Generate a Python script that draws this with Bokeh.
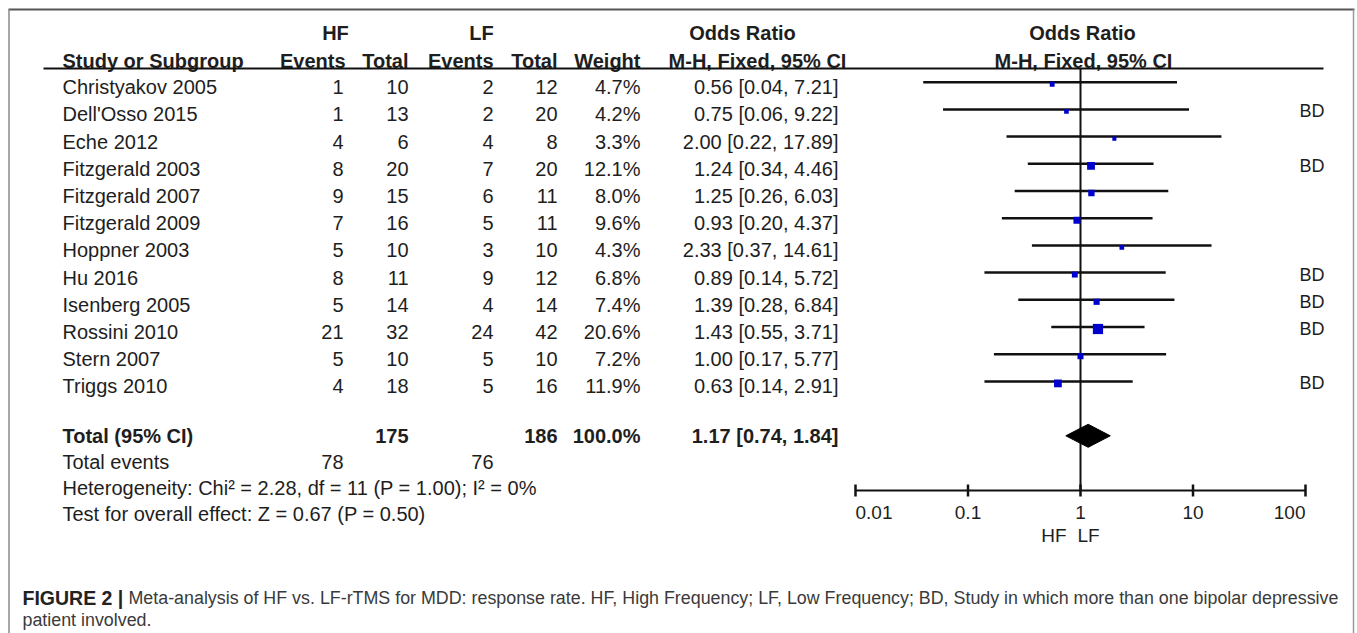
from bokeh.plotting import figure
from bokeh.models import Range1d, LogScale
from bokeh.embed import file_html
from bokeh.resources import INLINE
from bokeh.core.properties import value
import math

# ---------------- data ----------------
studies = ["Christyakov 2005", "Dell'Osso 2015", "Eche 2012", "Fitzgerald 2003",
           "Fitzgerald 2007", "Fitzgerald 2009", "Hoppner 2003", "Hu 2016",
           "Isenberg 2005", "Rossini 2010", "Stern 2007", "Triggs 2010"]
hf_events = [1, 1, 4, 8, 9, 7, 5, 8, 5, 21, 5, 4]
hf_total = [10, 13, 6, 20, 15, 16, 10, 11, 14, 32, 10, 18]
lf_events = [2, 2, 4, 7, 6, 5, 3, 9, 4, 24, 5, 5]
lf_total = [12, 20, 8, 20, 11, 11, 10, 12, 14, 42, 10, 16]
weights = [4.7, 4.2, 3.3, 12.1, 8.0, 9.6, 4.3, 6.8, 7.4, 20.6, 7.2, 11.9]
odds = [0.56, 0.75, 2.00, 1.24, 1.25, 0.93, 2.33, 0.89, 1.39, 1.43, 1.00, 0.63]
ci_low = [0.04, 0.06, 0.22, 0.34, 0.26, 0.20, 0.37, 0.14, 0.28, 0.55, 0.17, 0.14]
ci_high = [7.21, 9.22, 17.89, 4.46, 6.03, 4.37, 14.61, 5.72, 6.84, 3.71, 5.77, 2.91]
bd_flag = [False, True, False, True, False, False, False, True, True, True, False, True]

total_hf = 175
total_lf = 186
total_weight = 100.0
total_or = 1.17
total_low = 0.74
total_high = 1.84
events_hf = 78
events_lf = 76
heterogeneity = "Heterogeneity: Chi\u00b2 = 2.28, df = 11 (P = 1.00); I\u00b2 = 0%"
overall = "Test for overall effect: Z = 0.67 (P = 0.50)"
axis_ticks = [0.01, 0.1, 1, 10, 100]
axis_labels = ["0.01", "0.1", "1", "10", "100"]
caption_bold = "FIGURE 2 |"
caption_1 = ("Meta-analysis of HF vs. LF-rTMS for MDD: response rate. HF, High Frequency; "
             "LF, Low Frequency; BD, Study in which more than one bipolar depressive")
caption_2 = "patient involved."

# ---------------- layout ----------------
W, H = 1357, 633
FONT = "Liberation Sans"
TXT = "#1e1e1e"
ONE_X = 1080.0       # page x of OR = 1
DECADE = 112.5       # px per decade
ROW0 = 81.7
STEP = 27.2
TEXT_DY = 5
FOOT_STEP = 26

p = figure(width=W, height=H, output_backend="svg", toolbar_location=None,
           x_range=Range1d(0, W), y_range=Range1d(H, 0),
           x_axis_location=None, y_axis_location=None, min_border=0,
           outline_line_color=None, background_fill_color="white",
           border_fill_color="white")
p.xgrid.visible = False
p.ygrid.visible = False

p.extra_x_ranges = {"or": Range1d(10 ** ((0 - ONE_X) / DECADE), 10 ** ((W - ONE_X) / DECADE))}
p.extra_x_scales = {"or": LogScale()}

n = len(studies)
row_y = [ROW0 + STEP * i for i in range(n)]
text_y = [y + TEXT_DY for y in row_y]
y_total = ROW0 + STEP * (n + 1)
y_events = y_total + FOOT_STEP
y_het = y_events + FOOT_STEP
y_test = y_het + FOOT_STEP
y_axis = 490


def txt(x, y, s, size=20, align="left", bold=False, color=TXT, baseline="middle", xr=None):
    kw = {}
    if xr:
        kw["x_range_name"] = xr
    p.text(x=x, y=y, text=s, text_font=value(FONT), text_font_size=f"{size}px",
           text_align=align, text_baseline=baseline, text_color=color,
           text_font_style="bold" if bold else "normal", **kw)


# border of the figure box
p.segment(x0=[8], y0=[9], x1=[1354], y1=[9], line_color="#555555", line_width=2)
p.segment(x0=[8.5], y0=[9], x1=[8.5], y1=[H], line_color="#8a8a8a", line_width=1.5)
p.segment(x0=[1353], y0=[9], x1=[1353], y1=[H], line_color="#9a9a9a", line_width=1.5)

# headers
txt([335], [32], ["HF"], bold=True, align="center")
txt([481], [32], ["LF"], bold=True, align="center")
txt([742], [32], ["Odds Ratio"], bold=True, align="center")
txt([1082], [32], ["Odds Ratio"], bold=True, align="center")
txt([62], [60], ["Study or Subgroup"], bold=True)
txt([345, 408, 493, 557, 640], [60] * 5, ["Events", "Total", "Events", "Total", "Weight"],
    bold=True, align="right")
txt([757, 1083], [60, 60], ["M-H, Fixed, 95% CI", "M-H, Fixed, 95% CI"], bold=True, align="center")
p.segment(x0=[43], y0=[68], x1=[1323], y1=[68], line_color="#111111", line_width=2)

# study rows
txt([62] * n, text_y, studies)
txt([343] * n, text_y, [str(v) for v in hf_events], align="right")
txt([408] * n, text_y, [str(v) for v in hf_total], align="right")
txt([493] * n, text_y, [str(v) for v in lf_events], align="right")
txt([557] * n, text_y, [str(v) for v in lf_total], align="right")
txt([640] * n, text_y, [f"{w:.1f}%" for w in weights], align="right")
txt([838] * n, text_y, [f"{o:.2f} [{l:.2f}, {h:.2f}]" for o, l, h in zip(odds, ci_low, ci_high)],
    align="right")

# totals
txt([62], [y_total], ["Total (95% CI)"], bold=True)
txt([408, 557, 640], [y_total] * 3, [str(total_hf), str(total_lf), f"{total_weight:.1f}%"],
    bold=True, align="right")
txt([838], [y_total], [f"{total_or:.2f} [{total_low:.2f}, {total_high:.2f}]"], bold=True, align="right")
txt([62], [y_events], ["Total events"])
txt([343, 493], [y_events] * 2, [str(events_hf), str(events_lf)], align="right")
txt([62], [y_het], [heterogeneity])
txt([62], [y_test], [overall])

# forest plot
p.segment(x0=[1], y0=[68], x1=[1], y1=[y_axis], x_range_name="or", line_color="#111111", line_width=2)
p.segment(x0=ci_low, y0=row_y, x1=ci_high, y1=row_y, x_range_name="or",
          line_color="#111111", line_width=2.5)
sides = [2.25 * math.sqrt(w) for w in weights]
p.rect(x=odds, y=[y + 2 for y in row_y], width=sides, height=sides,
       width_units="screen", height_units="screen", x_range_name="or",
       fill_color="#0000cc", line_color=None)
p.patch(x=[total_low, total_or, total_high, total_or],
        y=[y_total, y_total - 11.5, y_total, y_total + 11.5],
        x_range_name="or", fill_color="black", line_color="black")

bd_y = [y + 2 for y, f in zip(row_y, bd_flag) if f]
txt([1299] * len(bd_y), bd_y, ["BD"] * len(bd_y), size=18)

# axis
p.segment(x0=[axis_ticks[0]], y0=[y_axis], x1=[axis_ticks[-1]], y1=[y_axis], x_range_name="or",
          line_color="#111111", line_width=2)
p.segment(x0=axis_ticks, y0=[y_axis - 6] * 5, x1=axis_ticks, y1=[y_axis + 6] * 5,
          x_range_name="or", line_color="#111111", line_width=2.5)
aligns = ["left", "center", "center", "center", "right"]
for t, lab, a in zip(axis_ticks, axis_labels, aligns):
    txt([t], [512], [lab], size=19, align=a, xr="or")
txt([1066], [535], ["HF"], size=19, align="right")
txt([1077], [535], ["LF"], size=19, align="left")

# caption
txt([22], [597], [caption_bold], size=19.5, bold=True, color="#222222", baseline="alphabetic")
txt([128], [597], [caption_1], size=17.85, color="#3a3a3a", baseline="alphabetic")
txt([22], [619], [caption_2], size=17.85, color="#3a3a3a", baseline="alphabetic")

open("out.html", "w").write(file_html(p, INLINE))
